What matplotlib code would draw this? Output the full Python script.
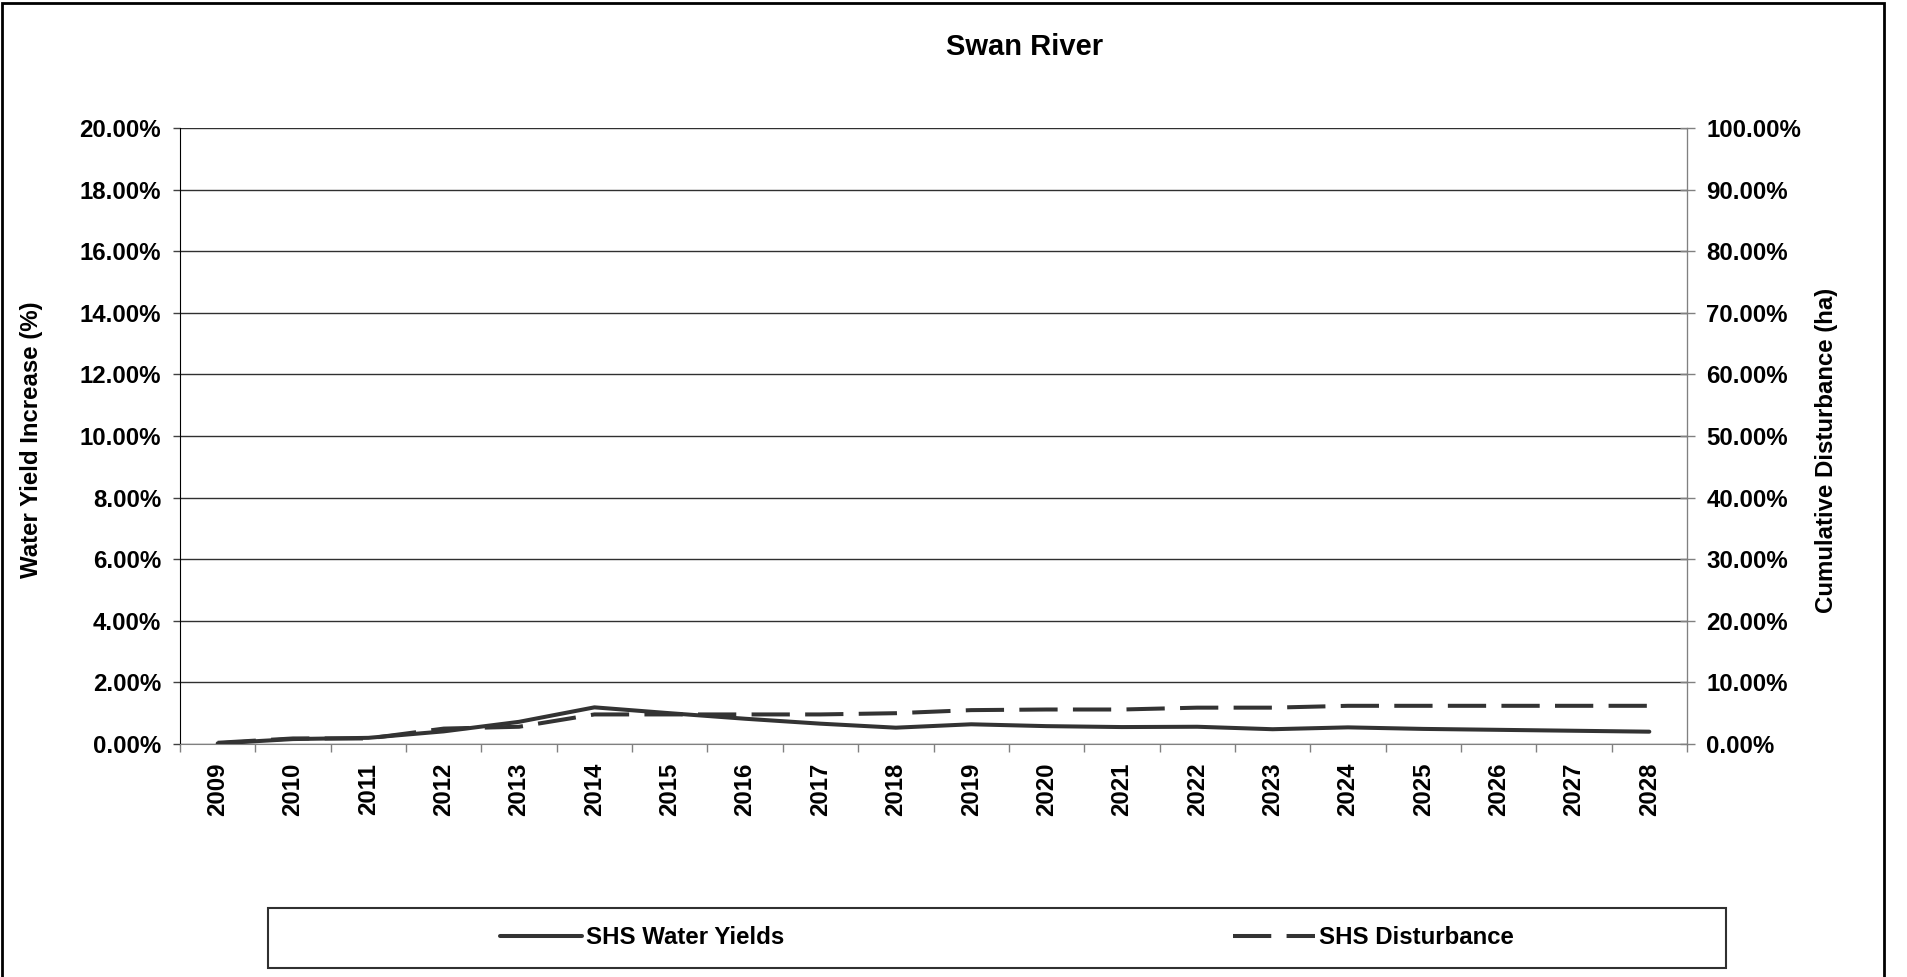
import matplotlib
matplotlib.use('Agg')
import matplotlib.pyplot as plt
from matplotlib.patches import Rectangle
from matplotlib.ticker import FixedLocator, FuncFormatter

plt.rcParams['font.family'] = ['Liberation Sans', 'DejaVu Sans']
plt.rcParams['font.weight'] = 'bold'

# data
years = [str(y) for y in range(2009, 2029)]
water_yield = [0.02, 0.16, 0.20, 0.41, 0.72, 1.19, 1.00, 0.82, 0.66, 0.53,
               0.64, 0.58, 0.55, 0.56, 0.48, 0.54, 0.49, 0.46, 0.43, 0.40]
disturbance = [0.2, 0.9, 0.9, 2.5, 2.8, 4.8, 4.8, 4.8, 4.8, 5.0,
               5.5, 5.6, 5.6, 5.9, 5.9, 6.2, 6.2, 6.2, 6.2, 6.2]
left_ticks = [0, 2, 4, 6, 8, 10, 12, 14, 16, 18, 20]
right_ticks = [0, 10, 20, 30, 40, 50, 60, 70, 80, 90, 100]

W, H = 1907, 977
FS = 17.3
line_col = '#333333'

fig = plt.figure(figsize=(W / 100, H / 100), dpi=100)
ax = fig.add_axes([180 / W, 233 / H, 1507 / W, 616 / H])
ax2 = ax.twinx()

x = list(range(len(years)))
ax.plot(x, water_yield, color=line_col, lw=2.9, solid_capstyle='round',
        label='SHS Water Yields', zorder=3)
ax2.plot(x, disturbance, color=line_col, lw=2.9, dashes=(9.5, 3.8),
         label='SHS Disturbance', zorder=3)

ax.set_xlim(-0.5, len(years) - 0.5)
ax.set_ylim(0, 20)
ax2.set_ylim(0, 100)

# category ticks sit between the years, labels at the centres
ax.xaxis.set_major_locator(FixedLocator([i - 0.5 for i in range(len(years) + 1)]))
ax.xaxis.set_minor_locator(FixedLocator(x))
ax.set_xticklabels([], minor=False)
ax.set_xticklabels(years, minor=True, rotation=90, fontsize=FS, fontweight='bold')
ax.tick_params(axis='x', which='major', length=5.8, width=1, color='#808080', direction='out')
ax.tick_params(axis='x', which='minor', length=0, pad=13.5)

ax.set_yticks(left_ticks)
ax.yaxis.set_major_formatter(FuncFormatter(lambda v, p: '%.2f%%' % v))
ax.tick_params(axis='y', length=5, width=1, color='#404040', direction='out', pad=8.6,
               labelsize=FS)
ax2.set_yticks(right_ticks)
ax2.yaxis.set_major_formatter(FuncFormatter(lambda v, p: '%.2f%%' % v))
ax2.tick_params(axis='y', length=10.8, width=1, color='#808080', direction='inout', pad=8.6,
                labelsize=FS)
for lab in ax.get_yticklabels() + ax2.get_yticklabels():
    lab.set_fontweight('bold')

ax.grid(axis='y', color='#303030', lw=1)
ax.set_axisbelow(True)
for a in (ax, ax2):
    a.spines['top'].set_visible(False)
ax.spines['left'].set_color('black')
ax.spines['bottom'].set_color('#808080')
ax2.spines['right'].set_color('#808080')
ax2.spines['left'].set_visible(False)
ax2.spines['bottom'].set_visible(False)

fig.text(1025 / W, 1 - 55 / H, 'Swan River', ha='center', va='baseline',
         fontsize=21, fontweight='bold')
fig.text(32 / W, 1 - 440 / H, 'Water Yield Increase (%)', rotation=90,
         ha='center', va='center', fontsize=FS, fontweight='bold')
fig.text(1826 / W, 1 - 450 / H, 'Cumulative Disturbance (ha)', rotation=90,
         ha='center', va='center', fontsize=FS, fontweight='bold')

# outer chart frame and legend box
fig.add_artist(Rectangle((2 / W, -0.02), 1882 / W, 1.02 - 3 / H, transform=fig.transFigure,
                         fill=False, ec='black', lw=2))
fig.add_artist(Rectangle((268 / W, 1 - 968 / H), 1458 / W, 60 / H, transform=fig.transFigure,
                         fill=False, ec='#303030', lw=1.5))

h1, l1 = ax.get_legend_handles_labels()
h2, l2 = ax2.get_legend_handles_labels()
fig.legend(h1 + h2, l1 + l2, loc='center', bbox_to_anchor=(1007 / W, 1 - 938 / H),
           ncol=2, frameon=False, handlelength=3.4, handletextpad=0.17,
           columnspacing=18.7, prop={'size': FS, 'weight': 'bold'})

fig.savefig('out.png', dpi=100)
